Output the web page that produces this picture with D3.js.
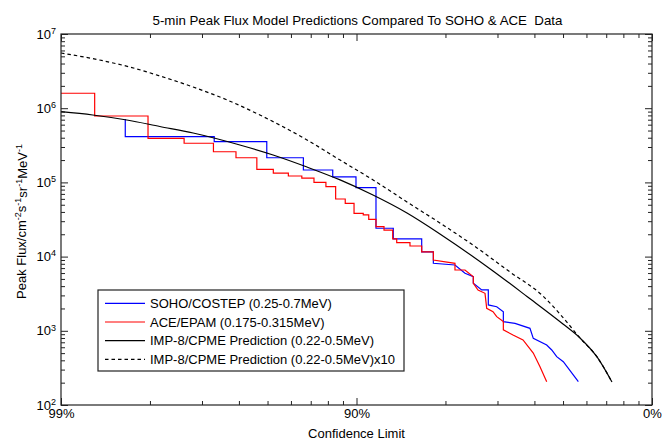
<!DOCTYPE html>
<html>
<head>
<meta charset="utf-8">
<script src="https://cdn.jsdelivr.net/npm/d3@7"></script>
<style>
  html, body { margin: 0; padding: 0; background: #fff; }
  svg { display: block; font-family: "Liberation Sans", Arial, Helvetica, sans-serif; }
</style>
</head>
<body>
<svg id="chart" width="671" height="443"></svg>
<script>
// ---------------- DATA ----------------
const title = "5-min Peak Flux Model Predictions Compared To SOHO & ACE  Data";
const xTitle = "Confidence Limit";

// x tick values: confidence limit (%)
const xMajorTicks = [99, 90, 0];
const xMinorTicks = [98, 97, 96, 95, 94, 93, 92, 91, 80, 70, 60, 50, 40, 30, 20, 10];
// y tick values: peak flux
const yMajorTicks = [1e2, 1e3, 1e4, 1e5, 1e6, 1e7];

// series: [confidence limit %, peak flux] vertices
const sohoCostep = [
  [98.35, 7.15e5], [98.35, 4.13e5], [96.70, 4.13e5], [96.70, 3.54e5],
  [95.03, 3.54e5], [95.03, 2.15e5], [93.39, 2.15e5], [93.39, 1.47e5],
  [91.69, 1.47e5], [91.69, 1.19e5], [90.04, 1.19e5], [90.04, 8.48e4],
  [88.36, 8.48e4], [88.36, 2.41e4], [86.68, 2.41e4], [86.68, 1.73e4],
  [83.38, 1.73e4], [83.38, 1.16e4], [81.80, 1.16e4], [81.80, 8.12e3],
  [78.46, 7.70e3], [76.71, 5.96e3], [75.15, 5.36e3], [75.15, 4.37e3],
  [73.47, 3.55e3], [72.07, 3.55e3], [72.07, 2.23e3], [70.18, 2.11e3],
  [68.60, 1.81e3], [68.60, 1.33e3], [65.61, 1.26e3], [61.36, 1.08e3],
  [60.35, 792], [55.98, 644], [54.22, 551], [52.41, 448], [49.90, 383],
  [43.67, 206]
];

const aceEpam = [
  [99.0, 1.59e6], [98.70, 1.59e6], [98.70, 7.85e5], [98.03, 7.85e5],
  [98.03, 3.93e5], [97.39, 3.93e5], [97.39, 3.37e5], [96.72, 3.37e5],
  [96.72, 2.59e5], [96.09, 2.59e5], [96.09, 2.15e5], [95.40, 2.15e5],
  [95.40, 1.50e5], [94.77, 1.50e5], [94.77, 1.33e5], [94.12, 1.33e5],
  [94.12, 1.22e5], [93.47, 1.22e5], [93.47, 1.14e5], [92.82, 1.14e5],
  [92.82, 1.00e5], [92.12, 1.00e5], [92.12, 8.75e4], [91.50, 8.75e4],
  [91.50, 5.97e4], [90.84, 5.97e4], [90.84, 5.23e4], [90.19, 5.23e4],
  [90.19, 3.83e4], [89.46, 3.83e4], [89.46, 3.64e4], [89.00, 3.64e4],
  [89.00, 3.18e4], [88.36, 3.18e4], [88.36, 2.53e4], [87.61, 2.53e4],
  [87.61, 2.28e4], [86.74, 2.28e4], [86.74, 1.73e4], [86.32, 1.73e4],
  [86.32, 1.54e4], [84.83, 1.54e4], [84.83, 1.39e4], [83.38, 1.39e4],
  [83.38, 1.16e4], [81.80, 1.16e4], [81.80, 9.0e3], [78.46, 8.12e3],
  [78.46, 6.60e3], [76.71, 6.60e3], [75.15, 5.36e3], [75.15, 4.37e3],
  [74.22, 3.55e3], [72.78, 3.20e3], [72.42, 2.01e3], [71.03, 1.81e3],
  [70.18, 1.55e3], [68.60, 1.33e3], [68.60, 1.03e3], [66.15, 878],
  [63.40, 752], [60.35, 502], [58.22, 328], [55.98, 206]
];

const impPrediction = [
  [99.0, 8.97e5], [98.72, 8.1e5], [98.33, 6.93e5], [97.84, 5.67e5],
  [97.2, 4.63e5], [95.97, 3.19e5], [94.78, 2.34e5], [93.2, 1.61e5],
  [91.2, 1.08e5], [88.63, 6.76e4], [85.18, 3.87e4], [80.84, 2.02e4],
  [71.03, 6.4e3], [62.24, 2.9e3], [50.03, 1.235e3], [42.93, 800],
  [34.84, 444], [26.8, 204]
];

const impPredictionX10 = [
  [99.0, 5.55e6], [98.65, 4.46e6], [98.29, 3.59e6], [97.84, 2.72e6],
  [97.2, 1.93e6], [96.35, 1.29e6], [95.29, 8.1e5], [93.2, 3.73e5],
  [91.2, 2.0e5], [88.45, 1.04e5], [85.18, 5.44e4], [80.38, 2.67e4],
  [74.43, 1.31e4], [66.93, 6.2e3], [57.23, 2.94e3], [51.17, 1.68e3],
  [42.93, 800], [34.84, 444], [26.8, 204]
];

const seriesNames = [
  "SOHO/COSTEP (0.25-0.7MeV)",
  "ACE/EPAM (0.175-0.315MeV)",
  "IMP-8/CPME Prediction (0.22-0.5MeV)",
  "IMP-8/CPME Prediction (0.22-0.5MeV)x10"
];

// ---------------- DRAW ----------------
const svg = d3.select("#chart");
const m = { left: 61, right: 652, top: 34, bottom: 405 };

// x is plotted as a log scale of (100 - confidence limit)
const x = d3.scaleLog().domain([1, 100]).range([m.left, m.right]);
const y = d3.scaleLog().domain([1e2, 1e7]).range([m.bottom, m.top]);
const px = cl => x(100 - cl);

const series = [
  { name: seriesNames[0], data: sohoCostep, color: "#0000ff", dash: null, curve: d3.curveLinear },
  { name: seriesNames[1], data: aceEpam, color: "#ff0000", dash: null, curve: d3.curveLinear },
  { name: seriesNames[2], data: impPrediction, color: "#000000", dash: null, curve: d3.curveMonotoneX },
  { name: seriesNames[3], data: impPredictionX10, color: "#000000", dash: "3.5,3", curve: d3.curveMonotoneX }
];

// Title
svg.append("text")
  .attr("x", (m.left + m.right) / 2 + 1).attr("y", 25)
  .attr("text-anchor", "middle").attr("font-size", "13.3px").attr("fill", "#000")
  .style("white-space", "pre")
  .text(title);

// minor ticks
const yMinor = [];
yMajorTicks.slice(0, -1).forEach(d => { for (let k = 2; k <= 9; k++) yMinor.push(d * k); });
const xMinorP = xMinorTicks.map(c => 100 - c);
const xMajorP = xMajorTicks.map(c => 100 - c);

function styleAxis(g) {
  g.select(".domain").remove();
  g.selectAll("line").attr("stroke", "#222");
}

// bottom
svg.append("g").attr("transform", `translate(0,${m.bottom})`)
  .call(d3.axisBottom(x).tickValues(xMinorP).tickSizeInner(-4).tickSizeOuter(0).tickFormat(""))
  .call(styleAxis);
svg.append("g").attr("transform", `translate(0,${m.bottom})`)
  .call(d3.axisBottom(x).tickValues(xMajorP).tickSizeInner(-7).tickSizeOuter(0).tickPadding(4)
    .tickFormat(p => (100 - p) + "%"))
  .call(styleAxis)
  .call(g => g.selectAll("text").attr("font-size", "13px").attr("fill", "#000")
    .attr("font-family", "'Liberation Sans', Arial, sans-serif"));
// top
svg.append("g").attr("transform", `translate(0,${m.top})`)
  .call(d3.axisTop(x).tickValues(xMinorP).tickSizeInner(-4).tickSizeOuter(0).tickFormat(""))
  .call(styleAxis);
svg.append("g").attr("transform", `translate(0,${m.top})`)
  .call(d3.axisTop(x).tickValues(xMajorP).tickSizeInner(-7).tickSizeOuter(0).tickFormat(""))
  .call(styleAxis);
// left
svg.append("g").attr("transform", `translate(${m.left},0)`)
  .call(d3.axisLeft(y).tickValues(yMinor).tickSizeInner(-4).tickSizeOuter(0).tickFormat(""))
  .call(styleAxis);
svg.append("g").attr("transform", `translate(${m.left},0)`)
  .call(d3.axisLeft(y).tickValues(yMajorTicks).tickSizeInner(-7).tickSizeOuter(0).tickPadding(5).tickFormat(""))
  .call(styleAxis)
  .call(g => g.selectAll(".tick text").each(function(d) {
    const t = d3.select(this);
    t.attr("font-size", "13px").attr("fill", "#000")
      .attr("font-family", "'Liberation Sans', Arial, sans-serif");
    t.append("tspan").text("10");
    t.append("tspan").attr("dy", "-0.55em").attr("font-size", "9px").text(Math.round(Math.log10(d)));
  }));
// right
svg.append("g").attr("transform", `translate(${m.right},0)`)
  .call(d3.axisRight(y).tickValues(yMinor).tickSizeInner(-4).tickSizeOuter(0).tickFormat(""))
  .call(styleAxis);
svg.append("g").attr("transform", `translate(${m.right},0)`)
  .call(d3.axisRight(y).tickValues(yMajorTicks).tickSizeInner(-7).tickSizeOuter(0).tickFormat(""))
  .call(styleAxis);

// clip
svg.append("clipPath").attr("id", "plotclip").append("rect")
  .attr("x", m.left).attr("y", m.top).attr("width", m.right - m.left).attr("height", m.bottom - m.top);

// lines
const plot = svg.append("g").attr("clip-path", "url(#plotclip)");
series.forEach(s => {
  const line = d3.line().x(d => px(d[0])).y(d => y(d[1])).curve(s.curve);
  plot.append("path").datum(s.data)
    .attr("d", line).attr("fill", "none")
    .attr("stroke", s.color).attr("stroke-width", 1.2)
    .attr("stroke-dasharray", s.dash);
});

// frame
svg.append("rect").attr("x", m.left).attr("y", m.top)
  .attr("width", m.right - m.left).attr("height", m.bottom - m.top)
  .attr("fill", "none").attr("stroke", "#222").attr("stroke-width", 1.2);

// x label
svg.append("text").attr("x", (m.left + m.right) / 2).attr("y", 438)
  .attr("text-anchor", "middle").attr("font-size", "13px").attr("fill", "#000").text(xTitle);

// y label
const yl = svg.append("text")
  .attr("transform", `translate(26,${(m.top + m.bottom) / 2 + 2}) rotate(-90)`)
  .attr("text-anchor", "middle").attr("font-size", "13px").attr("fill", "#000");
[["Peak Flux/cm", false], ["-2", true], ["s", false], ["-1", true], ["sr", false], ["-1", true], ["MeV", false], ["-1", true]]
  .forEach(([t, sup], i, arr) => {
    const ts = yl.append("tspan").text(t);
    if (sup) ts.attr("font-size", "9px").attr("dy", "-0.6em");
    else if (i > 0 && arr[i - 1][1]) ts.attr("dy", "0.45em");
  });

// legend
const lg = svg.append("g");
const lx = 98, ly = 290, lw = 306, lh = 81;
lg.append("rect").attr("x", lx).attr("y", ly).attr("width", lw).attr("height", lh)
  .attr("fill", "#fff").attr("stroke", "#222").attr("stroke-width", 1.2);
series.forEach((s, i) => {
  const yy = ly + 13.3 + i * 18.7;
  lg.append("line").attr("x1", lx + 7).attr("x2", lx + 47).attr("y1", yy).attr("y2", yy)
    .attr("stroke", s.color).attr("stroke-width", 1.2).attr("stroke-dasharray", s.dash);
  lg.append("text").attr("x", lx + 52).attr("y", yy + 4.5)
    .attr("font-size", "13px").attr("fill", "#000").text(s.name);
});
</script>
</body>
</html>
